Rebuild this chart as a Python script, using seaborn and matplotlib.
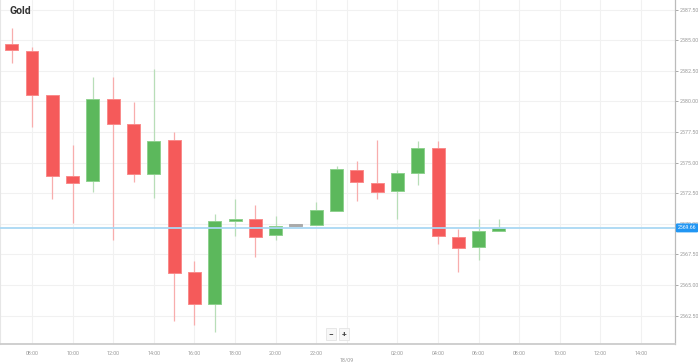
import seaborn as sns
import matplotlib.pyplot as plt
import numpy as np

# hourly candles, 17/09 07:00 -> 18/09 07:00
hours = ["07:00", "08:00", "09:00", "10:00", "11:00", "12:00", "13:00", "14:00",
         "15:00", "16:00", "17:00", "18:00", "19:00", "20:00", "21:00", "22:00",
         "23:00", "00:00", "01:00", "02:00", "03:00", "04:00", "05:00", "06:00", "07:00"]
opens = [2584.68, 2584.11, 2580.49, 2573.90, 2573.49, 2580.19, 2578.12, 2574.04,
         2576.84, 2566.03, 2563.42, 2570.22, 2570.41, 2569.05, 2569.84, 2569.92,
         2571.06, 2574.39, 2573.35, 2572.70, 2574.12, 2576.21, 2568.94, 2568.07, 2569.43]
highs = [2586.01, 2584.46, 2580.52, 2576.43, 2582.01, 2582.01, 2579.97, 2582.61,
         2577.47, 2566.95, 2570.79, 2571.99, 2571.53, 2570.63, 2569.86, 2571.77,
         2574.71, 2575.15, 2576.84, 2574.39, 2576.76, 2576.78, 2569.54, 2570.36, 2570.36]
lows = [2583.10, 2577.92, 2572.04, 2570.08, 2572.59, 2568.67, 2573.38, 2572.08,
        2562.08, 2561.72, 2561.13, 2569.00, 2567.30, 2568.64, 2569.82, 2569.92,
        2571.06, 2571.88, 2571.99, 2570.38, 2573.19, 2568.32, 2566.08, 2567.03, 2569.43]
closes = [2584.17, 2580.49, 2573.92, 2573.30, 2580.19, 2578.12, 2574.04, 2576.78,
          2565.95, 2563.42, 2570.22, 2570.41, 2568.94, 2569.84, 2569.84, 2571.09,
          2574.44, 2573.38, 2572.59, 2574.12, 2576.18, 2568.97, 2568.04, 2569.40, 2569.66]
last_price = 2569.66

y_ticks = [2562.5, 2565.0, 2567.5, 2570.0, 2572.5, 2575.0, 2577.5, 2580.0, 2582.5, 2585.0, 2587.5]
x_tick_pos = [1, 3, 5, 7, 9, 11, 13, 15, 16.5, 19, 21, 23, 25, 27, 29, 31]
x_tick_labels = ["08:00", "10:00", "12:00", "14:00", "16:00", "18:00", "20:00", "22:00",
                 "\n18/09", "02:00", "04:00", "06:00", "08:00", "10:00", "12:00", "14:00"]

sns.set_theme(style="white")
plt.rcParams['font.family'] = ['Roboto', 'DejaVu Sans']

red, red_edge, red_wick = "#f55a5a", "#f98a8a", "#f8adad"
green, green_edge, green_wick = "#5cb85c", "#8fd18f", "#b8deb8"
gray = "#aaaaaa"

fig = plt.figure(figsize=(6.98, 3.62), dpi=100)
ax = fig.add_axes([0.0, 17.7 / 362, 675 / 698, 1 - 17.7 / 362])

x = np.arange(len(hours))
o = np.array(opens)
c = np.array(closes)
colors, edges, wicks = [], [], []
for oo, cc in zip(o, c):
    if cc > oo:
        colors.append(green); edges.append(green_edge); wicks.append(green_wick)
    elif cc < oo:
        colors.append(red); edges.append(red_edge); wicks.append(red_wick)
    else:
        colors.append(gray); edges.append(gray); wicks.append(gray)

# grid
for yt in y_ticks:
    ax.axhline(yt, color="#f1f1f1", lw=0.8, zorder=0)
for xt in x_tick_pos:
    ax.axvline(xt, color="#f1f1f1", lw=0.8, zorder=0)

ax.vlines(x, lows, highs, colors=wicks, lw=0.9, zorder=2)
body = np.maximum(np.abs(c - o), 0.12)
ax.bar(x, body, bottom=np.minimum(o, c), width=0.64, color=colors,
       edgecolor=edges, linewidth=0.7, zorder=3)

ax.axhline(last_price, color="#a9d8f3", lw=1.3, zorder=4)

ax.set_xlim(-0.576, 32.67)
ax.set_ylim(2560.15, 2588.28)

ax.set_xticks(x_tick_pos)
ax.set_xticklabels(x_tick_labels)
ax.yaxis.tick_right()
ax.set_yticks(y_ticks)
ax.set_yticklabels([f"{v:.2f}" for v in y_ticks])
ax.tick_params(axis="both", labelsize=3.9, colors="#9a9a9a", length=2, width=0.6, pad=1.5)
ax.tick_params(axis="x", pad=3)

ax.spines["top"].set_visible(False)
ax.spines["bottom"].set_color("#cccccc")
ax.spines["bottom"].set_linewidth(1.3)
ax.spines["right"].set_color("#bbbbbb")
ax.spines["right"].set_linewidth(0.9)
ax.spines["left"].set_color("#e6e6e6")
ax.spines["left"].set_linewidth(0.8)

# last price label
ax.annotate(f"{last_price:.2f}", xy=(1.0, last_price), xycoords=("axes fraction", "data"),
            xytext=(2, 0), textcoords="offset points", va="center", ha="left",
            fontsize=3.7, color="white", zorder=6,
            bbox=dict(boxstyle="round,pad=0.25,rounding_size=0.15", fc="#2196f3", ec="#2196f3"),
            annotation_clip=False)

fig.text(10 / 698, 1 - 11 / 362, "Gold", fontsize=7.5, fontweight="bold",
         color="#333333", va="center", ha="left")

# zoom buttons
for bx, label in [(331, "\u2212"), (344, "+")]:
    fig.text(bx / 698, 1 - 334 / 362, label, fontsize=6, fontweight="bold", color="#444444",
             ha="center", va="center",
             bbox=dict(boxstyle="square,pad=0.3", fc="#f7f7f7", ec="#e0e0e0", lw=0.5))

fig.savefig("out.png", dpi=100)
